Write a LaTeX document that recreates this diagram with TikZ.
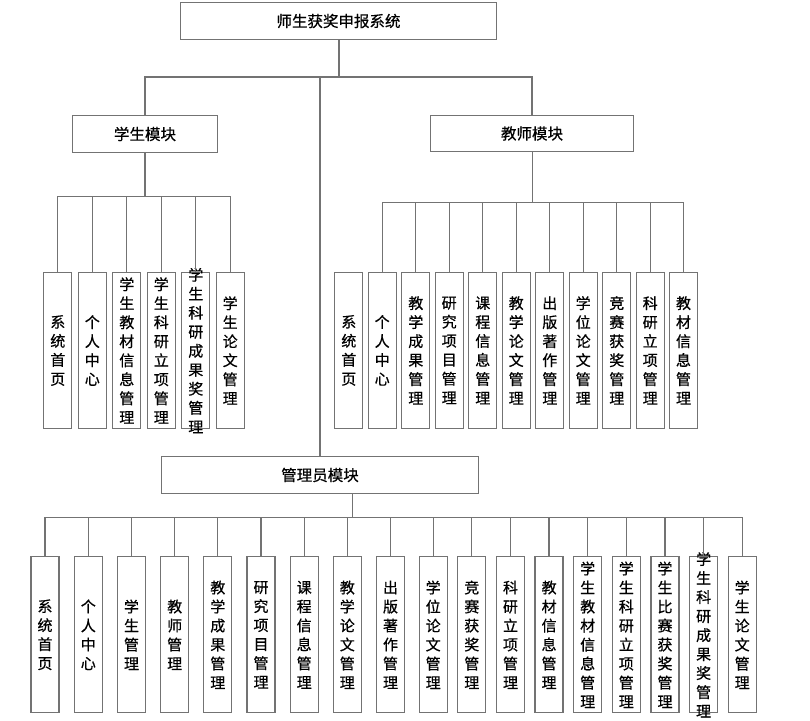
\documentclass[tikz,border=0pt]{standalone}
\usepackage{fontspec}
\setmainfont{Noto Sans CJK SC}[FakeBold=0.6]
\XeTeXlinebreaklocale "zh"
\XeTeXlinebreakskip=0pt plus 1pt

\newcommand\tightskip{\fontsize{15pt}{17.8pt}\selectfont}

\tikzset{
	box/.style={draw=black!55,line width=1.3pt,rectangle,inner sep=0pt,
		font=\fontsize{15.5pt}{18pt}\selectfont},
	leaf/.style={draw=black!55,line width=1.3pt,rectangle,inner sep=0pt,
		minimum width=28pt,minimum height=156pt},
	vtext/.style={inner sep=0pt,text width=15pt,align=center,
		font=\fontsize{15pt}{19pt}\selectfont},
	wire/.style={draw=black!55,line width=1.3pt}
}

\begin{document}
\begin{tikzpicture}[x=1pt,y=-1pt]

	\useasboundingbox (0,0) rectangle (810,720);

	% Top level
	\node[box,minimum width=316pt,minimum height=37pt] (root) at (338.5,21) {师生获奖申报系统};
	\node[box,minimum width=145pt,minimum height=37pt] (stu) at (145,134) {学生模块};
	\node[box,minimum width=203pt,minimum height=36pt] (tea) at (532,133.5) {教师模块};
	\node[box,minimum width=317pt,minimum height=37pt] (adm) at (320,475) {管理员模块};

	\coordinate (top) at (339,77);
	\draw[wire] (root.south -| top) -- (top);
	\draw[wire] (top) -| (stu.north);
	\draw[wire] (top) -| (tea.north);
	\draw[wire] (top) -| (adm.north);

	% Student module
	\coordinate (sbus) at (145,196.7);
	\draw[wire] (stu.south) -- (sbus);
	\foreach \x/\t [count=\i] in {57.8/系统首页,92.3/个人中心,126.8/学生教材信息管理,
		161.3/学生科研立项管理,195.8/\tightskip 学生科研成果奖管理,230.2/学生论文管理}
	{
		\node[leaf] (s\i) at (\x,350.5) {};
		\node[vtext] (s\i-t) at (s\i) {\t};
		\draw[wire] (sbus) -| (s\i.north);
	}

	% Teacher module
	\coordinate (tbus) at (532.7,202.7);
	\draw[wire] (tea.south -| tbus) -- (tbus);
	\foreach \x/\t [count=\i] in {348.8/系统首页,382.2/个人中心,415.8/教学成果管理,
		449.2/研究项目管理,482.8/课程信息管理,516.2/教学论文管理,549.8/出版著作管理,
		583.2/学位论文管理,616.8/竞赛获奖管理,650.2/科研立项管理,683.5/教材信息管理}
	{
		\node[leaf] (t\i) at (\x,350.4) {};
		\node[vtext] (t\i-t) at (t\i) {\t};
	}
	\foreach \i in {2,...,11}
		\draw[wire] (tbus) -| (t\i.north);

	% Administrator module
	\coordinate (abus) at (352.7,517.7);
	\draw[wire] (adm.south -| abus) -- (abus);
	\foreach \x/\t [count=\i] in {45/系统首页,88.3/个人中心,131.5/学生管理,174.7/教师管理,
		217.8/教学成果管理,261/研究项目管理,304.2/课程信息管理,347.3/教学论文管理,
		390.5/出版著作管理,433.2/学位论文管理,471.8/竞赛获奖管理,510.5/科研立项管理,
		549.1/教材信息管理,587.7/学生教材信息管理,626.3/学生科研立项管理,
		665/学生比赛获奖管理,703.6/\tightskip 学生科研成果奖管理,742.2/学生论文管理}
	{
		\node[leaf] (a\i) at (\x,634.8) {};
		\node[vtext] (a\i-t) at (a\i) {\t};
		\draw[wire] (abus) -| (a\i.north);
	}

\end{tikzpicture}
\end{document}
